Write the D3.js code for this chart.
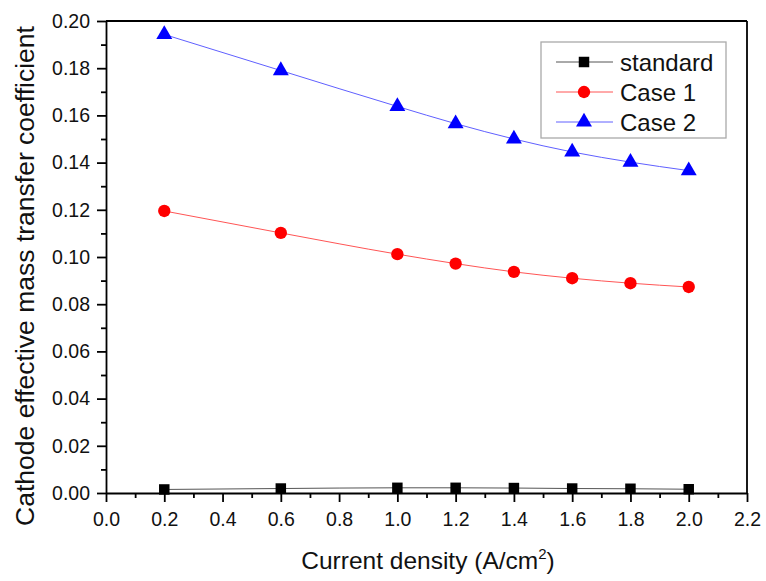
<!DOCTYPE html>
<html>
<head>
<meta charset="utf-8">
<script src="https://cdn.jsdelivr.net/npm/d3@7"></script>
<style>
body { margin: 0; background: #fff; }
text { font-family: Arial, "Liberation Sans", sans-serif; }
</style>
</head>
<body>
<script>
// data
var currentDensity = [0.2, 0.6, 1.0, 1.2, 1.4, 1.6, 1.8, 2.0];
var standardVals = [0.0015, 0.0019, 0.0022, 0.0022, 0.0021, 0.0019, 0.0018, 0.0016];
var case1Vals = [0.1195, 0.1102, 0.1012, 0.0972, 0.0937, 0.0910, 0.0889, 0.0873];
var case2Vals = [0.1943, 0.1790, 0.1638, 0.1565, 0.1500, 0.1445, 0.1402, 0.1366];
var xTicks = [0, 0.2, 0.4, 0.6, 0.8, 1.0, 1.2, 1.4, 1.6, 1.8, 2.0, 2.2];
var yTicks = [0, 0.02, 0.04, 0.06, 0.08, 0.10, 0.12, 0.14, 0.16, 0.18, 0.20];

var series = [
  {name: "standard", vals: standardVals, color: "#000", line: "#555", sym: d3.symbolSquare, size: 110},
  {name: "Case 1", vals: case1Vals, color: "#ff0000", line: "#ff5555", sym: d3.symbolCircle, size: 120},
  {name: "Case 2", vals: case2Vals, color: "#0000ff", line: "#6060ff", sym: d3.symbolTriangle, size: 110}
];

var W = 766, H = 581;
var margin = {top: 21, right: 19, bottom: 88, left: 106};

var svg = d3.select("body").append("svg").attr("width", W).attr("height", H);

var x = d3.scaleLinear().domain([0, 2.2]).range([margin.left, W - margin.right]);
var y = d3.scaleLinear().domain([0, 0.2]).range([H - margin.bottom, margin.top]);

// minor ticks
var xMinor = d3.range(0.1, 2.2, 0.2);
var yMinor = d3.range(0.01, 0.2, 0.02);

svg.append("g").attr("transform", "translate(0," + (H - margin.bottom) + ")")
  .call(d3.axisBottom(x).tickValues(xTicks).tickSize(9).tickSizeOuter(0).tickPadding(10)
    .tickFormat(d3.format(".1f")));
svg.append("g").attr("transform", "translate(0," + (H - margin.bottom) + ")")
  .call(d3.axisBottom(x).tickValues(xMinor).tickSize(5).tickSizeOuter(0).tickFormat(""))
  .select(".domain").remove();

svg.append("g").attr("transform", "translate(" + margin.left + ",0)")
  .call(d3.axisLeft(y).tickValues(yTicks).tickSize(9).tickSizeOuter(0).tickPadding(7)
    .tickFormat(d3.format(".2f")));
svg.append("g").attr("transform", "translate(" + margin.left + ",0)")
  .call(d3.axisLeft(y).tickValues(yMinor).tickSize(5).tickSizeOuter(0).tickFormat(""))
  .select(".domain").remove();

svg.selectAll(".tick text").attr("font-size", 19.5).attr("fill", "#111");
svg.selectAll(".tick line, .domain").attr("stroke", "#000").attr("stroke-width", 1.8);

// frame top/right
svg.append("line").attr("x1", x(0)).attr("x2", x(2.2)).attr("y1", y(0.2)).attr("y2", y(0.2))
  .attr("stroke", "#000").attr("stroke-width", 1.8);
svg.append("line").attr("x1", x(2.2)).attr("x2", x(2.2)).attr("y1", y(0.2)).attr("y2", y(0))
  .attr("stroke", "#000").attr("stroke-width", 1.8);

var line = d3.line().x(function(d){ return x(d[0]); }).y(function(d){ return y(d[1]); })
  .curve(d3.curveMonotoneX);

series.forEach(function(s){
  var pts = currentDensity.map(function(c, i){ return [c, s.vals[i]]; });
  svg.append("path").datum(pts).attr("d", line).attr("fill", "none")
    .attr("stroke", s.line).attr("stroke-width", 1);
  svg.selectAll(null).data(pts).enter().append("path")
    .attr("transform", function(d){ return "translate(" + x(d[0]) + "," + y(d[1]) + ")"; })
    .attr("d", d3.symbol().type(s.sym).size(s.size))
    .attr("fill", s.color);
});

// legend
var lg = svg.append("g");
lg.append("rect").attr("x", 541).attr("y", 42).attr("width", 185).attr("height", 96)
  .attr("fill", "#fff").attr("stroke", "#aaa").attr("stroke-width", 1.3);
series.forEach(function(s, i){
  var ly = 62 + i * 30;
  lg.append("line").attr("x1", 556).attr("x2", 613).attr("y1", ly).attr("y2", ly)
    .attr("stroke", s.line).attr("stroke-width", 1);
  lg.append("path").attr("transform", "translate(584," + ly + ")")
    .attr("d", d3.symbol().type(s.sym).size(s.size)).attr("fill", s.color);
  lg.append("text").attr("x", 620).attr("y", ly + 8.5).attr("font-size", 24).attr("fill", "#111").text(s.name);
});

// axis titles
var xt = svg.append("text").attr("x", 428).attr("y", 569)
  .attr("text-anchor", "middle").attr("font-size", 24.5).attr("fill", "#111");
xt.append("tspan").text("Current density (A/cm");
xt.append("tspan").attr("font-size", 15).attr("dy", -10).text("2");
xt.append("tspan").attr("dy", 10).text(")");

svg.append("text").attr("transform", "translate(34,276) rotate(-90)")
  .attr("text-anchor", "middle").attr("font-size", 26.5).attr("fill", "#111")
  .text("Cathode effective mass transfer coefficient");
</script>
</body>
</html>
